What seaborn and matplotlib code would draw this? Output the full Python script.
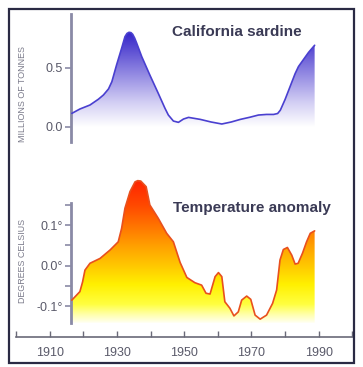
import numpy as np
import pandas as pd
import matplotlib
matplotlib.use("Agg")
import matplotlib.pyplot as plt
import seaborn as sns
from matplotlib.patches import Polygon, Rectangle
from matplotlib.colors import LinearSegmentedColormap

# ---------------- data ----------------
sardine_years = [1916.6, 1919.0, 1922.0, 1924.5, 1926.0, 1927.5, 1928.5, 1929.9, 1931.4,
                 1932.4, 1933.0, 1933.6, 1934.2, 1934.7, 1935.3, 1935.9, 1937.4, 1939.8,
                 1942.3, 1944.3, 1945.3, 1946.8, 1948.3, 1949.8, 1951.3, 1954.8, 1958.0,
                 1961.2, 1964.0, 1966.7, 1969.5, 1972.1, 1974.5, 1976.6, 1977.8, 1978.6,
                 1980.0, 1981.5, 1983.0, 1984.0, 1985.5, 1987.0, 1988.8]
sardine_catch = [0.113, 0.15, 0.184, 0.233, 0.269, 0.32, 0.381, 0.523, 0.664,
                 0.763, 0.790, 0.800, 0.797, 0.783, 0.750, 0.707, 0.593, 0.438,
                 0.283, 0.156, 0.099, 0.048, 0.037, 0.065, 0.079, 0.062, 0.040,
                 0.023, 0.040, 0.062, 0.080, 0.099, 0.104, 0.104, 0.112, 0.14,
                 0.23, 0.34, 0.45, 0.51, 0.57, 0.63, 0.69]

temp_years = [1916.6, 1919.0, 1919.8, 1920.5, 1922.0, 1925.0, 1928.0, 1930.4, 1931.4,
              1932.4, 1933.9, 1935.4, 1936.2, 1937.1, 1938.7, 1939.8, 1942.3, 1944.8,
              1946.8, 1948.8, 1950.8, 1953.2, 1955.2, 1956.5, 1957.7, 1959.2, 1960.2,
              1961.2, 1962.1, 1963.6, 1964.8, 1966.1, 1967.1, 1968.6, 1969.8, 1971.1,
              1972.6, 1974.5, 1976.3, 1977.5, 1978.5, 1979.5, 1980.7, 1982.0, 1983.0,
              1983.9, 1985.2, 1986.4, 1987.5, 1988.8]
temp_anom = [-0.085, -0.064, -0.04, -0.011, 0.006, 0.018, 0.039, 0.059, 0.092,
             0.142, 0.183, 0.207, 0.210, 0.209, 0.195, 0.150, 0.117, 0.080,
             0.059, 0.008, -0.029, -0.042, -0.048, -0.068, -0.070, -0.027, -0.017,
             -0.027, -0.089, -0.105, -0.124, -0.114, -0.085, -0.075, -0.083, -0.122,
             -0.132, -0.122, -0.093, -0.060, 0.014, 0.040, 0.045, 0.026, 0.004,
             0.006, 0.031, 0.059, 0.080, 0.086]

x_ticks = list(range(1900, 2001, 10))
x_labels = ["" if y not in (1910, 1930, 1950, 1970, 1990) else str(y) for y in x_ticks]
sardine_ticks = [0.0, 0.5]
sardine_labels = ["0.0", "0.5"]
temp_ticks = [-0.1, 0.0, 0.1]
temp_labels = ["-0.1\u00b0", "0.0\u00b0", "0.1\u00b0"]
temp_minor = [-0.05, 0.05, 0.15]

df_s = pd.DataFrame({"year": sardine_years, "catch": sardine_catch})
df_t = pd.DataFrame({"year": temp_years, "anom": temp_anom})

# ---------------- style ----------------
sns.set_style("white")
plt.rcParams["font.family"] = ["Liberation Sans", "DejaVu Sans"]

W, H = 363, 367
fig = plt.figure(figsize=(W / 100, H / 100), dpi=100)
fig.patch.set_facecolor("white")

def fx(px):
    return px / W

def fy(py):
    return 1 - py / H

spine_col = "#8a8aa6"
tick_col = "#5a5a6a"
title_col = "#3a3a55"

# ---------------- helper ----------------
def gradient_fill(ax, x, y, base, cmap, vmin, vmax):
    verts = [(x[0], base)] + list(zip(x, y)) + [(x[-1], base)]
    poly = Polygon(verts, closed=True, facecolor="none", edgecolor="none")
    ax.add_patch(poly)
    grad = np.linspace(vmin, vmax, 256).reshape(-1, 1)
    im = ax.imshow(grad, aspect="auto", cmap=cmap, origin="lower",
                   extent=[x[0], x[-1], vmin, vmax], zorder=1, interpolation="bilinear")
    im.set_clip_path(poly)

x0_px, x1_px = 16.0, 352.3

# ---------------- top panel ----------------
s_ymin, s_ymax = -0.127, 0.955
ax1 = fig.add_axes([fx(x0_px), fy(141.7), fx(x1_px) - fx(x0_px), fy(14) - fy(141.7)])
ax1.set_facecolor("none")
blue_cmap = LinearSegmentedColormap.from_list(
    "b", [(0, "#ffffff"), (0.25, "#d4d0f4"), (0.6, "#8a80e0"), (1, "#3424c8")])
gradient_fill(ax1, sardine_years, sardine_catch, 0.0, blue_cmap, 0.0, 0.8)
sns.lineplot(data=df_s, x="year", y="catch", ax=ax1, color="#4a40d0", lw=1.2, zorder=3)
ax1.lines[-1].set_solid_joinstyle("round")
ax1.set_xlim(1900, 2000)
ax1.set_ylim(s_ymin, s_ymax)
for s in ["top", "right", "bottom"]:
    ax1.spines[s].set_visible(False)
ax1.spines["left"].set_position(("data", 1916.5))
ax1.spines["left"].set_color(spine_col)
ax1.spines["left"].set_linewidth(2)
ax1.set_xticks([])
ax1.set_yticks(sardine_ticks)
ax1.set_yticklabels(sardine_labels)
ax1.tick_params(axis="y", left=True, direction="out", length=4, width=1.2, color=spine_col,
                labelsize=9, labelcolor=tick_col, pad=2)
ax1.set_xlabel("")
ax1.set_ylabel("")

# ---------------- bottom panel ----------------
t_ymin, t_ymax = -0.141, 0.22
def ty(v):
    return 265.7 - 405 * v
ax2 = fig.add_axes([fx(x0_px), fy(ty(t_ymin)), fx(x1_px) - fx(x0_px), fy(ty(t_ymax)) - fy(ty(t_ymin))])
ax2.set_facecolor("none")
warm_cmap = LinearSegmentedColormap.from_list(
    "w", [(0.0, "#fffff2"), (0.06, "#ffffa8"), (0.13, "#ffff40"), (0.27, "#fff000"),
          (0.40, "#ffc800"), (0.54, "#ffa000"), (0.68, "#ff7400"), (0.82, "#ff4a00"),
          (1.0, "#ff2400")])
gradient_fill(ax2, temp_years, temp_anom, t_ymin, warm_cmap, t_ymin, 0.21)
sns.lineplot(data=df_t, x="year", y="anom", ax=ax2, color="#e8501e", lw=1.2, zorder=3)
ax2.lines[-1].set_solid_joinstyle("round")
ax2.set_xlim(1900, 2000)
ax2.set_ylim(t_ymin, t_ymax)
ax2.spines["top"].set_visible(False)
ax2.spines["right"].set_visible(False)
ax2.spines["left"].set_position(("data", 1916.5))
ax2.spines["left"].set_bounds(t_ymin, 0.155)
ax2.spines["left"].set_color(spine_col)
ax2.spines["left"].set_linewidth(2)
ax2.spines["bottom"].set_position(("outward", 14.2 * 72 / 100))
ax2.spines["bottom"].set_color("#6a6a78")
ax2.spines["bottom"].set_linewidth(1.2)
ax2.set_yticks(temp_ticks)
ax2.set_yticklabels(temp_labels)
ax2.set_yticks(temp_minor, minor=True)
ax2.tick_params(axis="y", which="both", left=True, direction="out", length=4, width=1.2,
                color=spine_col, labelsize=9, labelcolor=tick_col, pad=2)
ax2.set_xticks(x_ticks)
ax2.set_xticklabels(x_labels)
ax2.tick_params(axis="x", bottom=True, direction="in", length=4, width=1, color="#6a6a78",
                labelsize=9, labelcolor=tick_col, pad=7)
ax2.set_xlabel("")
ax2.set_ylabel("")

# ---------------- texts ----------------
fig.text(fx(237), fy(32), "California sardine", ha="center", va="center",
         fontsize=11, fontweight="bold", color=title_col)
fig.text(fx(251.7), fy(208.3), "Temperature anomaly", ha="center", va="center",
         fontsize=11, fontweight="bold", color=title_col)
fig.text(fx(23), fy(94), "MILLIONS OF TONNES", rotation=90, ha="center", va="center",
         fontsize=6.4, color="#7a7a8a")
fig.text(fx(23), fy(260.7), "DEGREES CELSIUS", rotation=90, ha="center", va="center",
         fontsize=6.4, color="#7a7a8a")

# ---------------- frame ----------------
fig.patches.append(Rectangle((fx(9.3), fy(362.5)), fx(354) - fx(9.3), fy(9.3) - fy(362.5),
                             transform=fig.transFigure, fill=False,
                             edgecolor="#2a2a44", linewidth=1.6))

fig.savefig("out.png", dpi=100, facecolor="white")
